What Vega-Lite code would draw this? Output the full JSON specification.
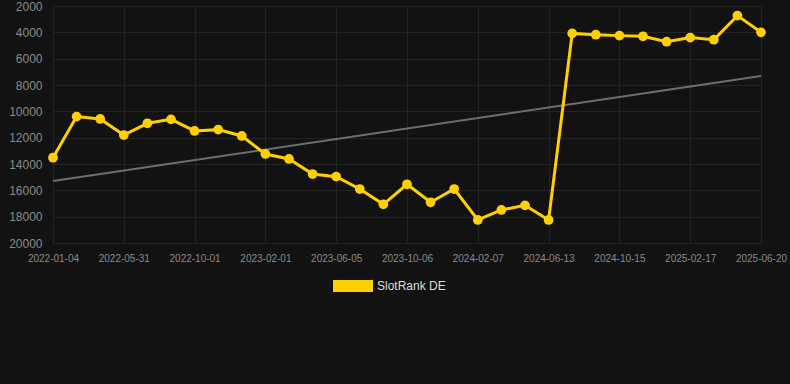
{
  "$schema": "https://vega.github.io/schema/vega-lite/v6.json",
  "width": 745,
  "height": 237,
  "autosize": "none",
  "padding": {"left": 45, "top": 6, "right": 0, "bottom": 141},
  "background": "#121212",
  "config": {
    "view": {"stroke": null},
    "font": "Liberation Sans",
    "axis": {
      "labelFont": "Liberation Sans",
      "labelColor": "#8a8a8a",
      "gridColor": "#232323",
      "gridWidth": 1,
      "domain": false,
      "ticks": false,
      "title": null
    }
  },
  "datasets": {
    "rank": [
      {"date": "2022-01-04", "rank": 13520, "series": "SlotRank DE"},
      {"date": "2022-02-22", "rank": 10400, "series": "SlotRank DE"},
      {"date": "2022-04-12", "rank": 10580, "series": "SlotRank DE"},
      {"date": "2022-05-31", "rank": 11800, "series": "SlotRank DE"},
      {"date": "2022-07-11", "rank": 10910, "series": "SlotRank DE"},
      {"date": "2022-08-21", "rank": 10610, "series": "SlotRank DE"},
      {"date": "2022-10-01", "rank": 11490, "series": "SlotRank DE"},
      {"date": "2022-11-11", "rank": 11390, "series": "SlotRank DE"},
      {"date": "2022-12-22", "rank": 11870, "series": "SlotRank DE"},
      {"date": "2023-02-01", "rank": 13240, "series": "SlotRank DE"},
      {"date": "2023-03-14", "rank": 13620, "series": "SlotRank DE"},
      {"date": "2023-04-25", "rank": 14760, "series": "SlotRank DE"},
      {"date": "2023-06-05", "rank": 14960, "series": "SlotRank DE"},
      {"date": "2023-07-16", "rank": 15900, "series": "SlotRank DE"},
      {"date": "2023-08-26", "rank": 17060, "series": "SlotRank DE"},
      {"date": "2023-10-06", "rank": 15540, "series": "SlotRank DE"},
      {"date": "2023-11-16", "rank": 16910, "series": "SlotRank DE"},
      {"date": "2023-12-27", "rank": 15900, "series": "SlotRank DE"},
      {"date": "2024-02-07", "rank": 18250, "series": "SlotRank DE"},
      {"date": "2024-03-19", "rank": 17490, "series": "SlotRank DE"},
      {"date": "2024-05-02", "rank": 17140, "series": "SlotRank DE"},
      {"date": "2024-06-13", "rank": 18250, "series": "SlotRank DE"},
      {"date": "2024-07-24", "rank": 4080, "series": "SlotRank DE"},
      {"date": "2024-09-03", "rank": 4180, "series": "SlotRank DE"},
      {"date": "2024-10-15", "rank": 4250, "series": "SlotRank DE"},
      {"date": "2024-11-25", "rank": 4300, "series": "SlotRank DE"},
      {"date": "2025-01-06", "rank": 4710, "series": "SlotRank DE"},
      {"date": "2025-02-17", "rank": 4400, "series": "SlotRank DE"},
      {"date": "2025-03-30", "rank": 4560, "series": "SlotRank DE"},
      {"date": "2025-05-10", "rank": 2730, "series": "SlotRank DE"},
      {"date": "2025-06-20", "rank": 4000, "series": "SlotRank DE"}
    ],
    "trend": [
      {"date": "2022-01-04", "trend": 15290},
      {"date": "2025-06-20", "trend": 7320}
    ]
  },
  "encoding": {
    "x": {
      "field": "date",
      "type": "ordinal",
      "scale": {"type": "point", "range": [8, 716], "padding": 0},
      "axis": {
        "values": ["2022-01-04", "2022-05-31", "2022-10-01", "2023-02-01", "2023-06-05", "2023-10-06", "2024-02-07", "2024-06-13", "2024-10-15", "2025-02-17", "2025-06-20"],
        "labelAngle": 0,
        "labelFontSize": 10,
        "labelPadding": 10,
        "labelOverlap": false,
        "grid": true
      }
    }
  },
  "layer": [
    {
      "data": {"name": "trend"},
      "mark": {"type": "line", "color": "#6e6e6e", "strokeWidth": 2},
      "encoding": {
        "y": {
          "field": "trend",
          "type": "quantitative",
          "scale": {"domain": [2000, 20000], "reverse": true, "nice": false, "zero": false},
          "axis": {
            "values": [2000, 4000, 6000, 8000, 10000, 12000, 14000, 16000, 18000, 20000],
            "tickCount": 20,
            "format": "d",
            "labelFontSize": 12,
            "labelPadding": 3,
            "labelOverlap": false,
            "grid": true
          }
        }
      }
    },
    {
      "data": {"name": "rank"},
      "mark": {"type": "line", "strokeWidth": 3, "point": {"filled": true, "size": 95, "opacity": 1}},
      "encoding": {
        "y": {"field": "rank", "type": "quantitative"},
        "color": {
          "field": "series",
          "type": "nominal",
          "scale": {"domain": ["SlotRank DE"], "range": ["#FFD000"]},
          "legend": {
            "title": null,
            "orient": "none",
            "legendX": 288,
            "legendY": 260,
            "padding": 0,
            "symbolType": "M-1,-0.3L1,-0.3L1,0.3L-1,0.3Z",
            "symbolSize": 1600,
            "symbolFillColor": "#FFD000",
            "symbolStrokeColor": "#FFD000",
            "symbolStrokeWidth": 0,
            "labelColor": "#dddddd",
            "labelFontSize": 12,
            "labelFont": "Liberation Sans"
          }
        }
      }
    }
  ]
}
